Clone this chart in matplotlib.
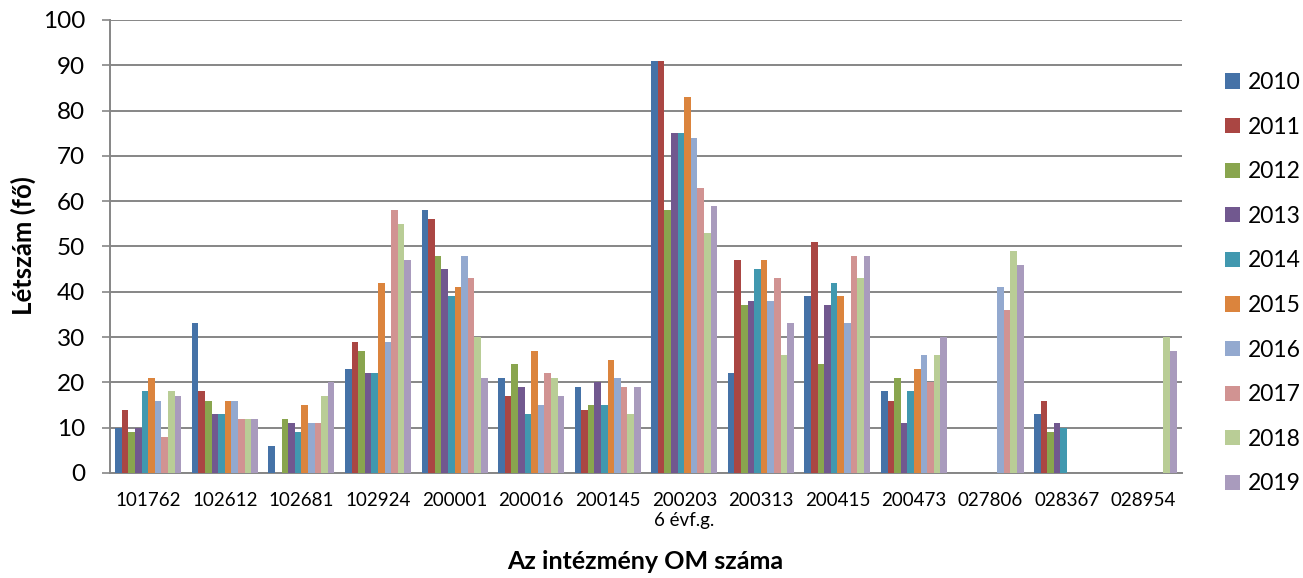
import numpy as np
import matplotlib
matplotlib.use("Agg")
import matplotlib.pyplot as plt

plt.rcParams['font.family'] = ['Lato', 'DejaVu Sans']

schools = ['101762', '102612', '102681', '102924', '200001', '200016', '200145',
           '200203\n6 évf.g.', '200313', '200415', '200473', '027806', '028367', '028954']
years = ['2010', '2011', '2012', '2013', '2014', '2015', '2016', '2017', '2018', '2019']
colors = ['#4572A7', '#AA4643', '#89A54E', '#71588F', '#4198AF',
          '#DB843D', '#93A9CF', '#D19392', '#B9CD96', '#A99BBD']

nan = np.nan
# rows = schools, columns = years
counts = np.array([
    [10, 14, 9, 10, 18, 21, 16, 8, 18, 17],
    [33, 18, 16, 13, 13, 16, 16, 12, 12, 12],
    [6, nan, 12, 11, 9, 15, 11, 11, 17, 20],
    [23, 29, 27, 22, 22, 42, 29, 58, 55, 47],
    [58, 56, 48, 45, 39, 41, 48, 43, 30, 21],
    [21, 17, 24, 19, 13, 27, 15, 22, 21, 17],
    [19, 14, 15, 20, 15, 25, 21, 19, 13, 19],
    [91, 91, 58, 75, 75, 83, 74, 63, 53, 59],
    [22, 47, 37, 38, 45, 47, 38, 43, 26, 33],
    [39, 51, 24, 37, 42, 39, 33, 48, 43, 48],
    [18, 16, 21, 11, 18, 23, 26, 20, 26, 30],
    [nan, nan, nan, nan, nan, nan, 41, 36, 49, 46],
    [13, 16, 9, 11, 10, nan, nan, nan, nan, nan],
    [nan, nan, nan, nan, nan, nan, nan, nan, 30, 27],
])

fig = plt.figure(figsize=(13.03, 5.78), dpi=100)
ax = fig.add_axes([0.0844, 0.1817, 0.8227, 0.7837])

x = np.arange(len(schools))
w = 0.0862
for j, yr in enumerate(years):
    ax.bar(x - 4.5 * w + j * w, counts[:, j], width=w, color=colors[j],
           label=yr, zorder=3, linewidth=0)

grid_c = '#868686'
ax.set_xlim(-0.5, len(schools) - 0.5)
ax.set_ylim(0, 100)
ax.set_yticks(range(0, 101, 10))
ax.yaxis.grid(True, color=grid_c, linewidth=1.4, zorder=0)
ax.set_xticks(x)
ax.set_xticklabels(schools, fontsize=13.5, multialignment='center')
ax.tick_params(axis='x', length=0, pad=14)
ax.tick_params(axis='y', labelsize=17.5, color=grid_c, width=1.2, length=6, pad=12)
for s in ['top', 'right']:
    ax.spines[s].set_visible(False)
for s in ['left', 'bottom']:
    ax.spines[s].set_color(grid_c)
    ax.spines[s].set_linewidth(1.4)

fig.text(0.018, 0.575, 'Létszám (fő)', rotation=90, fontsize=18.5,
         fontweight='bold', ha='center', va='center')
fig.text(0.4955, 0.028, 'Az intézmény OM száma', fontsize=18,
         fontweight='bold', ha='center', va='center')

fig.legend(loc='upper left', bbox_to_anchor=(1225 / 1303, 1 - 72 / 578),
           frameon=False, fontsize=16.5, handlelength=0.65, handleheight=0.65,
           handletextpad=0.35, labelspacing=1.03, borderpad=0, borderaxespad=0)

fig.savefig('out.png', dpi=100)
